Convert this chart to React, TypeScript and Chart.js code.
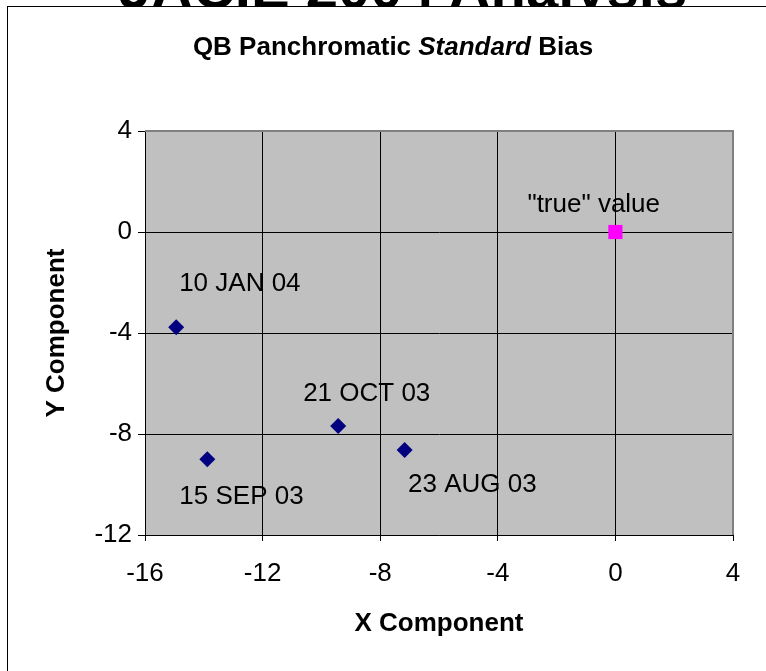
import React, { useEffect, useRef } from "react";
import { Chart, registerables } from "chart.js";

Chart.register(...registerables);

// ---- data ----
const pageTitle = "JACIE 2004 Analysis";
const titleParts = ["QB Panchromatic ", "Standard", " Bias"];
const titleItalic = [false, true, false];
const xAxisTitle = "X Component";
const yAxisTitle = "Y Component";

const dateLabels = ["10 JAN 04", "15 SEP 03", "21 OCT 03", "23 AUG 03"];
const dateX = [-14.94, -13.88, -9.43, -7.17];
const dateY = [-3.77, -9.0, -7.68, -8.63];

const trueLabel = ["\"true\" value"];
const trueX = [0];
const trueY = [0];

const xTicks = [-16, -12, -8, -4, 0, 4];
const yTicks = [-12, -8, -4, 0, 4];

// label offsets (pixels, styling only)
const dateLabelOffsets = [
  [3, -43.5],
  [-28, 37.5],
  [-35, -32],
  [3.5, 35],
];
const trueLabelOffsets = [[-88, -27]];

const FONT = "'Liberation Sans', Arial, sans-serif";

const bgPlugin = {
  id: "plotBg",
  beforeDraw(chart: any) {
    const { ctx, chartArea: a } = chart;
    ctx.save();
    ctx.fillStyle = "#C0C0C0";
    ctx.fillRect(a.left, a.top, a.right - a.left, a.bottom - a.top);
    ctx.restore();
  },
  beforeDatasetsDraw(chart: any) {
    const { ctx, chartArea: a } = chart;
    ctx.save();
    ctx.strokeStyle = "#808080";
    ctx.lineWidth = 2;
    ctx.beginPath();
    ctx.moveTo(a.left, a.top);
    ctx.lineTo(a.right, a.top);
    ctx.lineTo(a.right, a.bottom);
    ctx.stroke();
    ctx.restore();
  },
};

const titlePlugin = {
  id: "mixedTitle",
  afterDraw(chart: any) {
    const { ctx } = chart;
    ctx.save();
    ctx.fillStyle = "#000";
    ctx.textBaseline = "alphabetic";
    ctx.textAlign = "left";
    const fonts = titleParts.map((_, i) => `${titleItalic[i] ? "italic " : ""}bold 26px ${FONT}`);
    let total = 0;
    const widths = titleParts.map((t, i) => {
      ctx.font = fonts[i];
      const w = ctx.measureText(t).width;
      total += w;
      return w;
    });
    let x = 393 - total / 2;
    titleParts.forEach((t, i) => {
      ctx.font = fonts[i];
      ctx.fillText(t, x, 55);
      x += widths[i];
    });
    ctx.restore();
  },
};

const labelPlugin = {
  id: "pointLabels",
  afterDatasetsDraw(chart: any) {
    const { ctx } = chart;
    ctx.save();
    ctx.font = `26px ${FONT}`;
    ctx.fillStyle = "#000";
    ctx.textAlign = "left";
    ctx.textBaseline = "middle";
    chart.data.datasets.forEach((ds: any, di: number) => {
      const meta = chart.getDatasetMeta(di);
      meta.data.forEach((pt: any, i: number) => {
        const off = ds.labelOffsets[i];
        ctx.fillText(ds.pointLabels[i], pt.x + off[0], pt.y + off[1]);
      });
    });
    ctx.restore();
  },
};

export default function App() {
  const ref = useRef<HTMLCanvasElement>(null);

  useEffect(() => {
    if (!ref.current) return;
    const chart = new Chart(ref.current, {
      type: "scatter",
      data: {
        datasets: [
          {
            label: "dates",
            data: dateX.map((x, i) => ({ x, y: dateY[i] })),
            pointStyle: "rectRot",
            pointRadius: 8,
            pointHoverRadius: 8,
            backgroundColor: "#000080",
            borderColor: "#000080",
            borderWidth: 0,
            pointLabels: dateLabels,
            labelOffsets: dateLabelOffsets,
          } as any,
          {
            label: "true",
            data: trueX.map((x, i) => ({ x, y: trueY[i] })),
            pointStyle: "rect",
            pointRadius: 10,
            pointHoverRadius: 10,
            backgroundColor: "#FF00FF",
            borderColor: "#FF00FF",
            borderWidth: 0,
            pointLabels: trueLabel,
            labelOffsets: trueLabelOffsets,
          } as any,
        ],
      },
      options: {
        animation: false,
        responsive: false,
        devicePixelRatio: 1,
        layout: { padding: { top: 131, right: 33, left: 0, bottom: 0 } },
        plugins: {
          legend: { display: false },
          tooltip: { enabled: false },
          title: { display: false },
        },
        scales: {
          x: {
            type: "linear",
            min: xTicks[0],
            max: xTicks[xTicks.length - 1],
            afterBuildTicks: (s: any) => {
              s.ticks = xTicks.map((v) => ({ value: v }));
            },
            afterFit: (s: any) => {
              s.height = 136;
            },
            ticks: {
              color: "#000",
              font: { family: FONT, size: 26 },
              padding: 17,
              maxRotation: 0,
              autoSkip: false,
            },
            grid: { color: "#000", lineWidth: 1, tickLength: 6, drawTicks: true },
            border: { color: "#000", width: 1 },
            title: {
              display: true,
              text: xAxisTitle,
              color: "#000",
              font: { family: FONT, size: 26, weight: "bold" },
              padding: { top: 0, bottom: 32 },
            },
          },
          y: {
            type: "linear",
            min: yTicks[0],
            max: yTicks[yTicks.length - 1],
            afterBuildTicks: (s: any) => {
              s.ticks = yTicks.map((v) => ({ value: v }));
            },
            afterFit: (s: any) => {
              s.width = 145;
            },
            ticks: {
              color: "#000",
              font: { family: FONT, size: 26 },
              padding: 6,
              autoSkip: false,
            },
            grid: { color: "#000", lineWidth: 1, tickLength: 7, drawTicks: true },
            border: { color: "#000", width: 1 },
            title: {
              display: true,
              text: yAxisTitle,
              color: "#000",
              font: { family: FONT, size: 26, weight: "bold" },
              padding: { top: 41, bottom: 0 },
            },
          },
        },
      } as any,
      plugins: [bgPlugin, titlePlugin, labelPlugin],
    });
    return () => chart.destroy();
  }, []);

  return (
    <div
      style={{
        position: "absolute",
        left: 0,
        top: 0,
        width: 766,
        height: 671,
        overflow: "hidden",
        background: "#fff",
      }}
    >
      <div
        style={{
          position: "absolute",
          left: 0,
          top: -41,
          width: 806,
          textAlign: "center",
          font: `bold 58px ${FONT}`,
          lineHeight: "58px",
          whiteSpace: "nowrap",
          color: "#000",
        }}
      >
        {pageTitle}
      </div>
      <div
        style={{
          position: "absolute",
          left: 7,
          top: 6,
          width: 900,
          height: 900,
          border: "1px solid #000",
          background: "#fff",
        }}
      />
      <canvas
        ref={ref}
        width={766}
        height={671}
        style={{ position: "absolute", left: 0, top: 0, display: "block" }}
      />
    </div>
  );
}
